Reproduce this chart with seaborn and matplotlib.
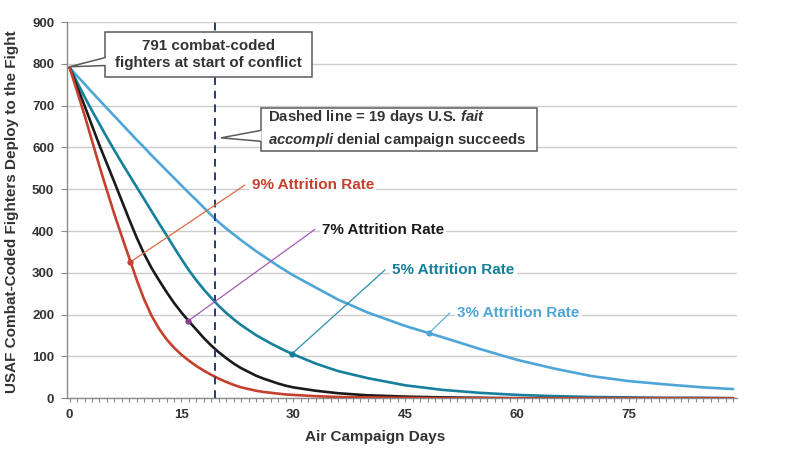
import matplotlib
matplotlib.use("Agg")
import matplotlib.pyplot as plt
import numpy as np
import pandas as pd
import seaborn as sns
from matplotlib.patches import Rectangle, Polygon
from matplotlib.ticker import MultipleLocator

# ---------------- data ----------------
days = list(range(0, 31)) + [33, 36, 40, 45, 50, 55, 60, 65, 70, 75, 80, 85, 89]
rate9 = [791, 734, 677, 616, 555, 497, 440, 387, 335, 283, 236, 197, 166, 141, 121,
         104, 90, 77, 66, 56, 47, 39, 32, 26, 22, 18, 15, 13, 11, 9, 8,
         5, 3, 2, 1, 0, 0, 0, 0, 0, 0, 0, 0, 0]
rate7 = [791, 745, 700, 652, 605, 561, 517, 472, 427, 384, 345, 311, 282, 254, 228,
         205, 184, 164, 144, 126, 110, 96, 83, 72, 63, 54, 47, 41, 35, 30, 26,
         18, 12, 7, 4, 2, 1, 0, 0, 0, 0, 0, 0, 0]
rate5 = [791, 756, 721, 688, 656, 624, 593, 563, 534, 505, 476, 447, 418, 390, 361,
         333, 306, 282, 260, 240, 221, 204, 189, 175, 163, 151, 141, 131, 122, 113, 105,
         83, 65, 48, 31, 20, 13, 8, 5, 3, 2, 1, 1, 0]
rate3 = [791, 771, 752, 732, 713, 694, 675, 656, 637, 618, 600, 581, 563, 545, 527,
         509, 491, 474, 456, 438, 421, 406, 392, 378, 365, 352, 340, 328, 316, 305, 294,
         265, 236, 205, 173, 146, 118, 92, 71, 53, 41, 33, 26, 22]

series_names = ["9% Attrition Rate", "7% Attrition Rate", "5% Attrition Rate", "3% Attrition Rate"]
series_values = [rate9, rate7, rate5, rate3]

marker_days = [8.15, 15.9, 29.8, 48.2]
marker_vals = [326, 185, 106, 156]

dashed_day = 19.5
start_count = 791

x_ticks = [0, 15, 30, 45, 60, 75]
y_ticks = list(range(0, 901, 100))

# ---------------- styling ----------------
line_colors = ["#C4412D", "#1A1A1A", "#16809C", "#4DA6D7"]
text_colors = ["#C4412D", "#1A1A1A", "#16809C", "#4DA6D7"]
leader_colors = ["#E06A45", "#A35BB5", "#2A8FAD", "#5DB0DC"]
marker_colors = ["#C4412D", "#8A3B8C", "#16809C", "#4DA6D7"]
leader_ends = [(23.5, 510), (32.9, 404), (42.3, 307), (51.0, 204)]
label_pos = [(24.4, 511), (33.8, 403), (43.3, 307), (52.0, 204)]

sns.set_style("white")
plt.rcParams["font.family"] = ["Liberation Sans", "DejaVu Sans"]
plt.rcParams["mathtext.fontset"] = "custom"
plt.rcParams["mathtext.rm"] = "Liberation Sans:bold"
plt.rcParams["mathtext.it"] = "Liberation Sans:italic:bold"
plt.rcParams["mathtext.bf"] = "Liberation Sans:bold"

df = pd.concat(
    [pd.DataFrame({"day": days, "fighters": vals, "rate": name})
     for name, vals in zip(series_names, series_values)],
    ignore_index=True,
)

fig, ax = plt.subplots(figsize=(7.89, 4.5), dpi=100)
fig.subplots_adjust(left=0.0845, right=0.934, top=0.951, bottom=0.115)

sns.lineplot(data=df, x="day", y="fighters", hue="rate",
             hue_order=series_names[::-1], palette=dict(zip(series_names, line_colors)),
             linewidth=1.9, legend=False, ax=ax, zorder=3)

ax.set_xlim(-0.4, 89.5)
ax.set_ylim(0, 900)
ax.set_yticks(y_ticks)
ax.set_xticks(x_ticks)
ax.xaxis.set_minor_locator(MultipleLocator(1))
ax.yaxis.grid(True, color="#cccccc", linewidth=1)
ax.xaxis.grid(False)
ax.set_axisbelow(True)
for s in ["top", "right"]:
    ax.spines[s].set_visible(False)
for s in ["left", "bottom"]:
    ax.spines[s].set_color("#8a8a8a")
    ax.spines[s].set_linewidth(1)
ax.tick_params(axis="x", which="both", direction="out", length=3, color="#8a8a8a",
               width=0.8, labelsize=9.5, labelcolor="#333333", pad=5, bottom=True)
ax.tick_params(axis="y", which="major", direction="out", length=4, color="#8a8a8a",
               width=0.8, labelsize=9.5, labelcolor="#333333", pad=5, left=True)
for lbl in ax.get_xticklabels() + ax.get_yticklabels():
    lbl.set_fontweight("bold")
ax.set_xlabel("")
ax.set_ylabel("")

fig.text(12 / 789, 1 - 212 / 450, "USAF Combat-Coded Fighters Deploy to the Fight",
         rotation=90, ha="center", va="center", fontsize=11, fontweight="bold",
         color="#333333")
fig.text(375 / 789, 1 - 437 / 450, "Air Campaign Days", ha="center", va="center",
         fontsize=11, fontweight="bold", color="#333333")

# dashed line
ax.axvline(dashed_day, color="#2B3A78", linestyle=(0, (4, 3)), linewidth=1.4, zorder=4)

# leaders, markers and labels
for i in range(4):
    ax.plot([marker_days[i], leader_ends[i][0]], [marker_vals[i], leader_ends[i][1]],
            color=leader_colors[i], linewidth=0.9, zorder=4)
    ax.scatter([marker_days[i]], [marker_vals[i]], color=marker_colors[i], s=20,
               zorder=6, linewidths=0)
    ax.text(label_pos[i][0], label_pos[i][1], series_names[i], ha="left", va="center",
            fontsize=11, fontweight="bold", color=text_colors[i], zorder=5,
            bbox=dict(facecolor="white", edgecolor="none", pad=1.5))

# callout boxes
def callout(x0, x1, y0, y1, base_top, base_bot, tip, zorder=7):
    rect = Rectangle((x0, y0), x1 - x0, y1 - y0, facecolor="white",
                     edgecolor="#5a5a5a", linewidth=1.1, zorder=zorder)
    ax.add_patch(rect)
    poly = Polygon([(x0 + 0.15, base_top), tip, (x0 + 0.15, base_bot)], closed=True,
                   facecolor="white", edgecolor="none", zorder=zorder + 0.5)
    ax.add_patch(poly)
    ax.plot([x0, tip[0], x0], [base_top, tip[1], base_bot], color="#5a5a5a",
            linewidth=1.1, zorder=zorder + 0.6, solid_joinstyle="miter")

callout(4.76, 32.5, 767.6, 875.4, 815, 796, (0.0, start_count + 2))
ax.text((4.76 + 32.5) / 2, 822, f"{start_count} combat-coded\nfighters at start of conflict",
        ha="center", va="center", fontsize=10.9, fontweight="bold", color="#333333",
        linespacing=1.3, zorder=9)

callout(25.6, 62.67, 592.5, 695.5, 640.6, 614.8, (20.3, 623))
ax.text(26.6, 645, "Dashed line = 19 days U.S. $\\mathit{fait}$\n$\\mathit{accompli}$ denial campaign succeeds",
        ha="left", va="center", fontsize=10.7, fontweight="bold", color="#333333",
        linespacing=1.33, zorder=9)

fig.savefig("out.png", dpi=100)
